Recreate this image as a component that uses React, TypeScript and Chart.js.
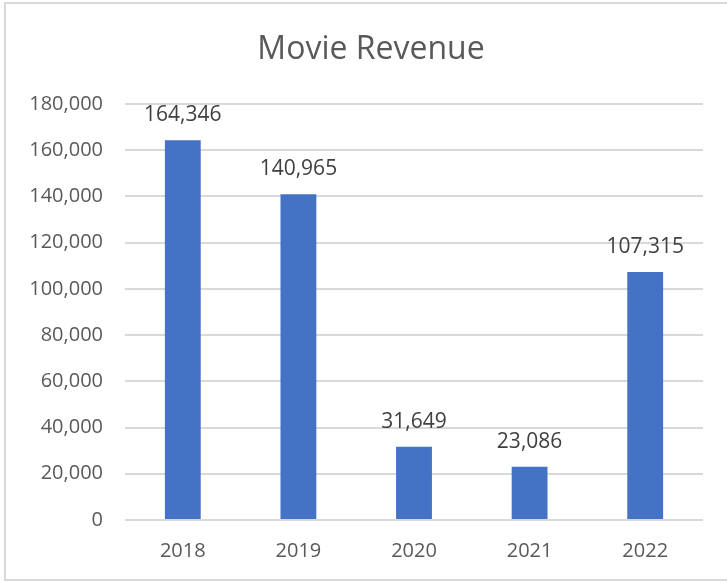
import React, { useEffect, useRef } from "react";
import { Chart, registerables } from "chart.js";

Chart.register(...registerables);

const title = "Movie Revenue";
const categories = ["2018", "2019", "2020", "2021", "2022"];
const revenue = [164346, 140965, 31649, 23086, 107315];
const yTickMin = 0;
const yTickMax = 180000;
const yTickStep = 20000;

const FONT = "'Open Sans', 'Noto Sans', sans-serif";

const frameAndLabels = {
  id: "frameAndLabels",
  beforeDraw(chart: any) {
    const { ctx } = chart;
    ctx.save();
    ctx.fillStyle = "#ffffff";
    ctx.fillRect(0, 0, chart.width, chart.height);
    ctx.strokeStyle = "#d9d9d9";
    ctx.lineWidth = 2;
    ctx.strokeRect(5, 3, chart.width + 20, chart.height - 5);
    ctx.font = `32px ${FONT}`;
    ctx.fillStyle = "#595959";
    ctx.textAlign = "center";
    ctx.textBaseline = "middle";
    ctx.fillText(title, 371, 50);
    ctx.restore();
  },
  afterDatasetsDraw(chart: any) {
    const { ctx } = chart;
    const meta = chart.getDatasetMeta(0);
    const data = chart.data.datasets[0].data as number[];
    ctx.save();
    ctx.font = `21px ${FONT}`;
    ctx.fillStyle = "#404040";
    ctx.textAlign = "center";
    ctx.textBaseline = "middle";
    meta.data.forEach((bar: any, i: number) => {
      ctx.fillText(data[i].toLocaleString("en-US"), bar.x, bar.y - 25);
    });
    ctx.restore();
  },
};

export default function App() {
  const ref = useRef<HTMLCanvasElement>(null);

  useEffect(() => {
    if (!ref.current) return;
    const chart = new Chart(ref.current, {
      type: "bar",
      data: {
        labels: categories,
        datasets: [
          {
            data: revenue,
            backgroundColor: "#4472C4",
            barPercentage: 0.31,
            categoryPercentage: 1,
          },
        ],
      },
      options: {
        animation: false,
        responsive: false,
        layout: { padding: { left: 0, right: 24, top: 104, bottom: 0 } },
        plugins: {
          legend: { display: false },
          tooltip: { enabled: false },
          title: { display: false },
        },
        scales: {
          x: {
            grid: { display: false, drawTicks: false },
            border: { display: false },
            ticks: {
              color: "#595959",
              font: { family: FONT, size: 20, lineHeight: 1.2 },
              padding: 19,
            },
            afterFit(scale: any) {
              scale.height = 62;
            },
          },
          y: {
            min: yTickMin,
            max: yTickMax,
            grid: { color: "#d9d9d9", lineWidth: 2, drawTicks: false },
            border: { display: false },
            ticks: {
              stepSize: yTickStep,
              color: "#595959",
              font: { family: FONT, size: 20, lineHeight: 1.2 },
              padding: 22,
              callback: (v: any) => Number(v).toLocaleString("en-US"),
            },
            afterFit(scale: any) {
              scale.width = 125;
            },
          },
        },
      },
      plugins: [frameAndLabels],
    });
    return () => chart.destroy();
  }, []);

  return (
    <div style={{ position: "fixed", left: 0, top: 0, width: 727, height: 582, background: "#fff" }}>
      <canvas ref={ref} width={727} height={582} style={{ display: "block" }} />
    </div>
  );
}
